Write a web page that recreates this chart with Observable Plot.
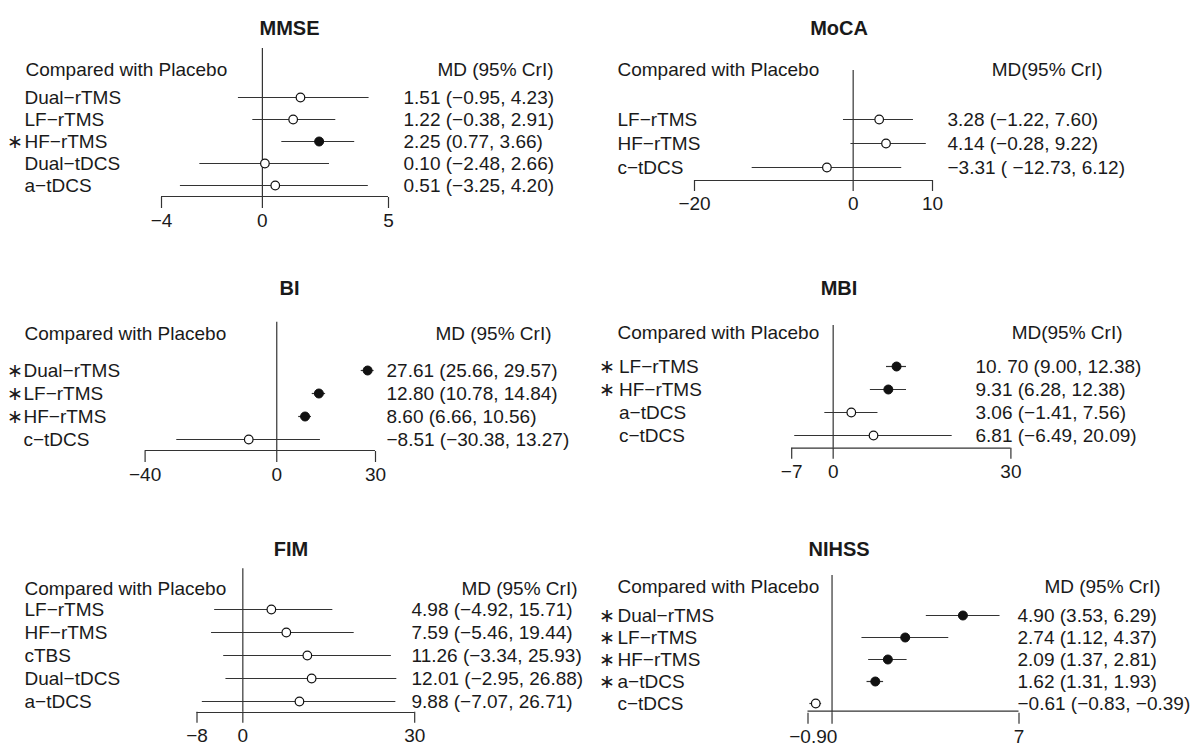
<!DOCTYPE html>
<html><head><meta charset="utf-8">
<script src="https://cdn.jsdelivr.net/npm/d3@7"></script>
<script src="https://cdn.jsdelivr.net/npm/@observablehq/plot@0.6"></script>
<style>
html,body{margin:0;padding:0;background:#fff;}
#wrap{position:relative;width:1201px;height:745px;overflow:hidden;background:#fff;}
#wrap svg{position:absolute;}
</style></head><body><div id="wrap"></div>
<script>
// ---- data ----
const mmseNames = ["Dual−rTMS", "LF−rTMS", "HF−rTMS", "Dual−tDCS", "a−tDCS"];
const mmseMD = [1.51, 1.22, 2.25, 0.10, 0.51];
const mmseLo = [-0.95, -0.38, 0.77, -2.48, -3.25];
const mmseHi = [4.23, 2.91, 3.66, 2.66, 4.20];
const mmseSig = [false, false, true, false, false];
const mmseText = ["1.51 (−0.95, 4.23)", "1.22 (−0.38, 2.91)", "2.25 (0.77, 3.66)", "0.10 (−2.48, 2.66)", "0.51 (−3.25, 4.20)"];
const mmseTicks = [-4, 0, 5];

const mocaNames = ["LF−rTMS", "HF−rTMS", "c−tDCS"];
const mocaMD = [3.28, 4.14, -3.31];
const mocaLo = [-1.22, -0.28, -12.73];
const mocaHi = [7.60, 9.22, 6.12];
const mocaSig = [false, false, false];
const mocaText = ["3.28 (−1.22, 7.60)", "4.14 (−0.28, 9.22)", "−3.31 ( −12.73, 6.12)"];
const mocaTicks = [-20, 0, 10];

const biNames = ["Dual−rTMS", "LF−rTMS", "HF−rTMS", "c−tDCS"];
const biMD = [27.61, 12.80, 8.60, -8.51];
const biLo = [25.66, 10.78, 6.66, -30.38];
const biHi = [29.57, 14.84, 10.56, 13.27];
const biSig = [true, true, true, false];
const biText = ["27.61 (25.66, 29.57)", "12.80 (10.78, 14.84)", "8.60 (6.66, 10.56)", "−8.51 (−30.38, 13.27)"];
const biTicks = [-40, 0, 30];

const mbiNames = ["LF−rTMS", "HF−rTMS", "a−tDCS", "c−tDCS"];
const mbiMD = [10.70, 9.31, 3.06, 6.81];
const mbiLo = [9.00, 6.28, -1.41, -6.49];
const mbiHi = [12.38, 12.38, 7.56, 20.09];
const mbiSig = [true, true, false, false];
const mbiText = ["10. 70 (9.00, 12.38)", "9.31 (6.28, 12.38)", "3.06 (−1.41, 7.56)", "6.81 (−6.49, 20.09)"];
const mbiTicks = [-7, 0, 30];

const fimNames = ["LF−rTMS", "HF−rTMS", "cTBS", "Dual−tDCS", "a−tDCS"];
const fimMD = [4.98, 7.59, 11.26, 12.01, 9.88];
const fimLo = [-4.92, -5.46, -3.34, -2.95, -7.07];
const fimHi = [15.71, 19.44, 25.93, 26.88, 26.71];
const fimSig = [false, false, false, false, false];
const fimText = ["4.98 (−4.92, 15.71)", "7.59 (−5.46, 19.44)", "11.26 (−3.34, 25.93)", "12.01 (−2.95, 26.88)", "9.88 (−7.07, 26.71)"];
const fimTicks = [-8, 0, 30];

const nihssNames = ["Dual−rTMS", "LF−rTMS", "HF−rTMS", "a−tDCS", "c−tDCS"];
const nihssMD = [4.90, 2.74, 2.09, 1.62, -0.61];
const nihssLo = [3.53, 1.12, 1.37, 1.31, -0.83];
const nihssHi = [6.29, 4.37, 2.81, 1.93, -0.39];
const nihssSig = [true, true, true, true, false];
const nihssText = ["4.90 (3.53, 6.29)", "2.74 (1.12, 4.37)", "2.09 (1.37, 2.81)", "1.62 (1.31, 1.93)", "−0.61 (−0.83, −0.39)"];
const nihssTicks = [-0.9, 0, 7];

const headerLeft = "Compared with Placebo";

// ---- layout (page pixel positions) ----
const panels = [
  {title: "MMSE", names: mmseNames, md: mmseMD, lo: mmseLo, hi: mmseHi, sig: mmseSig, text: mmseText, ticks: mmseTicks, mdHeader: "MD (95% CrI)",
   box: [0, 0, 600, 250], xPx: [161, 388], zeroTop: 48, axisY: 197, rowY: [95, 186], headerY: 62, headerX: 25, mdEnd: 553, labelX: 24, starX: 14.5, valueX: 403, titlePos: [289, 20]},
  {title: "MoCA", names: mocaNames, md: mocaMD, lo: mocaLo, hi: mocaHi, sig: mocaSig, text: mocaText, ticks: mocaTicks, mdHeader: "MD(95% CrI)",
   box: [600, 0, 601, 250], xPx: [694, 932], zeroTop: 70, axisY: 180, rowY: [118, 167], headerY: 62, headerX: 617, mdEnd: 1102, labelX: 617, starX: 606, valueX: 947, titlePos: [838.5, 20]},
  {title: "BI", names: biNames, md: biMD, lo: biLo, hi: biHi, sig: biSig, text: biText, ticks: biTicks, mdHeader: "MD (95% CrI)",
   box: [0, 250, 600, 240], xPx: [144.6, 375], zeroTop: 321.7, axisY: 451, rowY: [369, 440], headerY: 326, headerX: 24, mdEnd: 551, labelX: 23, starX: 14, valueX: 386, titlePos: [289, 280.7]},
  {title: "MBI", names: mbiNames, md: mbiMD, lo: mbiLo, hi: mbiHi, sig: mbiSig, text: mbiText, ticks: mbiTicks, mdHeader: "MD(95% CrI)",
   box: [600, 250, 601, 240], xPx: [791.2, 1010.4], zeroTop: 325, axisY: 447.7, rowY: [365, 435], headerY: 325, headerX: 617, mdEnd: 1122, labelX: 618.5, starX: 606, valueX: 975, titlePos: [838.5, 280.7]},
  {title: "FIM", names: fimNames, md: fimMD, lo: fimLo, hi: fimHi, sig: fimSig, text: fimText, ticks: fimTicks, mdHeader: "MD (95% CrI)",
   box: [0, 490, 600, 255], xPx: [196.5, 414.2], zeroTop: 568.3, axisY: 711.7, rowY: [608.3, 700.7], headerY: 580.7, headerX: 24, mdEnd: 577, labelX: 24, starX: 14, valueX: 411, titlePos: [290.4, 541.7]},
  {title: "NIHSS", names: nihssNames, md: nihssMD, lo: nihssLo, hi: nihssHi, sig: nihssSig, text: nihssText, ticks: nihssTicks, mdHeader: "MD (95% CrI)",
   box: [600, 490, 601, 255], xPx: [807.5, 1018.5], zeroTop: 575, axisY: 712.7, rowY: [613.3, 705], headerY: 579.3, headerX: 617, mdEnd: 1160, labelX: 617, starX: 606.5, valueX: 1017, titlePos: [838.5, 541.7]}
];

const FONT = "'Liberation Sans', Arial, Helvetica, sans-serif";
const FS = 19;
const INK = "#1a1a1a";
const LINE = "#333";
const fmt = d => d < 0 ? "−" + Math.abs(d) : String(d);

function panel(p) {
  const [left, top, w, h] = p.box;
  const data = p.names.map((name, i) => ({name, md: p.md[i], lo: p.lo[i], hi: p.hi[i], sig: p.sig[i], text: p.text[i]}));
  const domain = [p.ticks[0], p.ticks[p.ticks.length - 1]];
  const last = p.names[p.names.length - 1];
  const x0 = p.xPx[0], x1 = p.xPx[1];
  const svg = Plot.plot({
    width: w, height: h,
    marginLeft: x0 - left, marginRight: left + w - x1,
    marginTop: p.zeroTop - top, marginBottom: top + h - p.axisY,
    style: {fontFamily: FONT, fontSize: FS + "px", color: INK, background: "transparent", overflow: "visible"},
    x: {domain, label: null},
    y: {type: "point", domain: p.names, padding: 0, range: [p.rowY[0] - top, p.rowY[1] - top], axis: null},
    marks: [
      Plot.ruleX([0], {stroke: LINE, strokeWidth: 1.2}),
      Plot.ruleY([last], {x1: domain[0], x2: domain[1], dy: p.axisY - p.rowY[1], stroke: LINE, strokeWidth: 1.2}),
      Plot.axisX({ticks: p.ticks, tickSize: 11, tickPadding: 5, tickFormat: fmt, fontSize: FS, label: null, stroke: LINE, strokeWidth: 1.2}),
      Plot.ruleY(data, {y: "name", x1: "lo", x2: "hi", stroke: LINE, strokeWidth: 1.2}),
      Plot.dot(data.filter(d => !d.sig), {x: "md", y: "name", r: 4.3, fill: "#fff", stroke: "#111", strokeWidth: 1.2}),
      Plot.dot(data.filter(d => d.sig), {x: "md", y: "name", r: 4.5, fill: "#111", stroke: "#111", strokeWidth: 1}),
      Plot.text(data, {y: "name", text: "name", frameAnchor: "left", dx: p.labelX - x0, textAnchor: "start", fontSize: FS, fill: INK}),
      Plot.text(data.filter(d => d.sig), {y: "name", text: () => "∗", frameAnchor: "left", dx: p.starX - x0, textAnchor: "middle", fontSize: FS, fill: INK}),
      Plot.text(data, {y: "name", text: "text", frameAnchor: "right", dx: p.valueX - x1, textAnchor: "start", fontSize: FS, fill: INK}),
      Plot.text([headerLeft], {frameAnchor: "top-left", dx: p.headerX - x0, dy: p.headerY - p.zeroTop, textAnchor: "start", fontSize: FS, fill: INK}),
      Plot.text([p.mdHeader], {frameAnchor: "top-right", dx: p.mdEnd - x1, dy: p.headerY - p.zeroTop, textAnchor: "end", fontSize: FS, fill: INK}),
      Plot.text([p.title], {frameAnchor: "top-left", dx: p.titlePos[0] - x0, dy: p.titlePos[1] - p.zeroTop, textAnchor: "middle", fontSize: 20, fontWeight: "bold", fill: INK})
    ]
  });
  svg.style.left = left + "px";
  svg.style.top = top + "px";
  return svg;
}

const wrap = document.getElementById("wrap");
for (const p of panels) wrap.appendChild(panel(p));
</script>
</body></html>
